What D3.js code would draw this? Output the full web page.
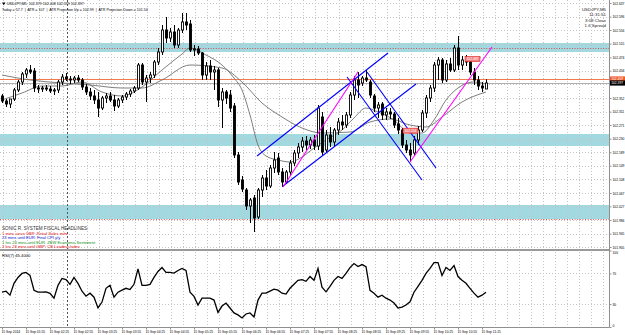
<!doctype html>
<html lang="en">
<head>
	<meta charset="UTF-8">
	<title>USDJPY,M5</title>
	<style>
		body { margin: 0; background: #fff; }
		svg { display: block; font-family: "Liberation Sans", Arial, sans-serif; }
		.axis text { font-size: 3.3px; fill: #000; }
		.axis path, .axis line { stroke: #909090; }
	</style>
</head>
<body>
	<script src="https://cdn.jsdelivr.net/npm/d3@7"></script>
	<script>
		// USDJPY M5 candles, oldest first
		var opens = [102.358,102.343,102.334,102.349,102.376,102.400,102.424,102.436,102.433,102.382,
			102.379,102.382,102.379,102.373,102.376,102.400,102.415,102.409,102.406,102.412,
			102.406,102.385,102.370,102.358,102.346,102.322,102.352,102.358,102.346,102.328,
			102.346,102.355,102.364,102.373,102.382,102.451,102.400,102.412,102.421,102.460,
			102.490,102.556,102.532,102.550,102.511,102.556,102.580,102.574,102.496,102.499,
			102.487,102.421,102.448,102.430,102.436,102.346,102.370,102.361,102.328,102.181,
			102.106,102.076,102.028,102.052,101.995,102.076,102.112,102.088,102.142,102.172,
			102.130,102.100,102.130,102.157,102.187,102.205,102.223,102.211,102.226,102.208,
			102.295,102.196,102.241,102.220,102.256,102.280,102.271,102.301,102.361,102.406,
			102.397,102.412,102.400,102.358,102.322,102.334,102.301,102.310,102.304,102.274,
			102.256,102.211,102.196,102.187,102.226,102.256,102.307,102.352,102.382,102.451,
			102.466,102.406,102.454,102.436,102.502,102.451,102.466,102.460,102.430,102.406,
			102.388,102.379];
		var highs = [102.364,102.349,102.343,102.382,102.406,102.430,102.442,102.451,102.442,102.391,
			102.388,102.391,102.388,102.382,102.406,102.424,102.427,102.418,102.418,102.421,
			102.412,102.394,102.382,102.376,102.370,102.358,102.367,102.370,102.361,102.352,
			102.361,102.370,102.379,102.388,102.457,102.457,102.421,102.430,102.466,102.502,
			102.571,102.595,102.562,102.571,102.562,102.607,102.607,102.586,102.511,102.508,
			102.490,102.460,102.466,102.448,102.442,102.382,102.376,102.376,102.337,102.190,
			102.118,102.082,102.052,102.061,102.082,102.121,102.136,102.151,102.190,102.187,
			102.142,102.136,102.166,102.196,102.217,102.235,102.238,102.235,102.241,102.331,
			102.310,102.256,102.265,102.262,102.292,102.301,102.310,102.370,102.418,102.430,
			102.418,102.436,102.406,102.364,102.340,102.340,102.322,102.322,102.310,102.292,
			102.262,102.226,102.217,102.238,102.268,102.316,102.361,102.391,102.460,102.475,
			102.472,102.466,102.472,102.511,102.538,102.478,102.481,102.472,102.442,102.418,
			102.400,102.408];
		var lows = [102.337,102.325,102.322,102.343,102.370,102.391,102.412,102.424,102.370,102.367,
			102.370,102.373,102.367,102.361,102.367,102.391,102.403,102.394,102.397,102.400,
			102.376,102.361,102.346,102.334,102.295,102.316,102.337,102.340,102.313,102.322,
			102.337,102.346,102.355,102.367,102.376,102.391,102.340,102.397,102.412,102.451,
			102.481,102.517,102.520,102.502,102.502,102.547,102.556,102.490,102.478,102.481,
			102.406,102.406,102.406,102.376,102.325,102.262,102.334,102.310,102.172,102.091,
			102.070,102.016,101.977,101.950,101.989,102.055,102.076,102.082,102.127,102.121,
			102.085,102.094,102.118,102.148,102.172,102.190,102.196,102.199,102.196,102.196,
			102.181,102.190,102.205,102.208,102.241,102.256,102.262,102.292,102.346,102.352,
			102.388,102.400,102.352,102.310,102.292,102.286,102.286,102.289,102.262,102.244,
			102.202,102.187,102.160,102.178,102.211,102.250,102.292,102.340,102.370,102.406,
			102.397,102.400,102.430,102.430,102.436,102.436,102.448,102.421,102.391,102.376,
			102.370,102.379];
		var closes = [102.343,102.334,102.349,102.376,102.400,102.424,102.436,102.430,102.382,102.379,
			102.382,102.379,102.373,102.376,102.400,102.415,102.409,102.406,102.412,102.406,
			102.385,102.370,102.358,102.346,102.322,102.352,102.358,102.346,102.328,102.346,
			102.355,102.364,102.373,102.382,102.451,102.400,102.412,102.421,102.460,102.490,
			102.556,102.532,102.550,102.511,102.556,102.580,102.571,102.496,102.499,102.487,
			102.421,102.448,102.430,102.436,102.346,102.370,102.352,102.322,102.181,102.100,
			102.079,102.028,102.046,101.992,102.076,102.112,102.088,102.142,102.166,102.130,
			102.100,102.130,102.157,102.187,102.205,102.223,102.211,102.226,102.208,102.322,
			102.190,102.241,102.220,102.256,102.280,102.271,102.301,102.361,102.406,102.391,
			102.412,102.406,102.361,102.322,102.331,102.301,102.310,102.304,102.271,102.256,
			102.211,102.196,102.181,102.226,102.256,102.307,102.352,102.382,102.451,102.466,
			102.406,102.454,102.436,102.502,102.451,102.466,102.460,102.430,102.406,102.388,
			102.382,102.397];

		// RSI(7), one value per bar
		var rsiValues = [45.5,46.8,41.6,57.1,64.8,70.0,71.3,67.4,48.0,45.5,
			45.5,46.0,44.0,37.7,54.5,63.5,62.0,55.8,64.8,57.0,
			46.8,40.3,44.2,39.0,25.0,32.6,50.6,54.5,39.0,45.5,
			48.1,50.6,49.0,55.8,76.0,54.5,54.5,55.8,64.8,72.6,
			77.7,71.3,71.3,70.5,73.9,76.5,74.0,45.5,40.0,28.7,
			37.7,37.7,37.7,35.2,19.0,27.4,31.3,24.8,18.4,15.8,
			11.9,17.0,18.4,13.2,35.2,44.2,44.2,46.8,49.4,48.1,
			44.2,43.0,50.6,55.8,61.0,62.0,59.7,66.0,61.0,76.5,
			52.0,46.0,53.0,61.0,66.0,63.5,70.0,77.7,82.9,79.0,
			81.6,79.0,48.0,44.2,39.0,41.6,37.7,35.2,31.3,24.8,
			26.0,28.7,33.0,45.5,53.2,61.0,70.0,76.5,84.2,84.2,
			67.4,77.7,73.9,80.3,66.0,61.0,57.1,50.6,44.2,39.0,
			41.6,45.4];

		// moving averages (bar index, price)
		var maFastBars = [0,5,10,15,20,25,30,35,40,45,47,51,55,58,60,62,64,66,69,72,75,78,81,85,88,91,94,98,102,105,108,111,114,118,121];
		var maFastPrices = [102.346,102.367,102.388,102.388,102.400,102.370,102.358,102.385,102.436,102.484,102.502,102.481,102.451,102.412,102.376,102.301,102.211,102.178,102.166,102.160,102.175,102.202,102.226,102.256,102.292,102.322,102.310,102.286,102.247,102.247,102.286,102.346,102.382,102.400,102.394];
		var maSlowBars = [0,7,15,22,30,35,40,47,55,60,65,70,75,80,87,92,97,102,106,110,115,121];
		var maSlowPrices = [102.421,102.406,102.397,102.391,102.382,102.382,102.406,102.451,102.442,102.400,102.337,102.295,102.262,102.247,102.250,102.280,102.289,102.271,102.265,102.295,102.340,102.370];

		// support / resistance zones
		var zoneTops = [102.517, 102.244, 102.031];
		var zoneBottoms = [102.490, 102.208, 101.989];
		var dottedLevels = [102.502, 101.989];
		var orangeLevel = 102.409;

		// trend lines: start bar, start price, end bar, end price
		var channelFrom = [[63.75, 102.178], [70.25, 102.088], [91.25, 102.430], [86.25, 102.415]];
		var channelTo = [[96.5, 102.487], [103.5, 102.394], [108.5, 102.142], [105, 102.106]];
		var pinkFrom = [[70.25, 102.085], [102, 102.160]];
		var pinkTo = [[89, 102.430], [122.5, 102.505]];

		// price tags on chart
		var tagBars = [100.5, 116];
		var tagPrices = [102.254, 102.469];

		var separatorBar = 16.25;

		var priceTicks = [102.637,102.596,102.556,102.515,102.474,102.434,102.352,102.311,102.271,102.230,102.189,102.149,102.108,102.067,102.027,101.986,101.945,101.905];
		var rsiTicks = [100, 70, 30, 0];
		var labelBars = d3.range(0, 121, 6);
		var timeLabels = ['15 Sep 2014','15 Sep 01:55','15 Sep 02:25','15 Sep 02:55','15 Sep 03:25','15 Sep 03:55',
			'15 Sep 04:25','15 Sep 04:55','15 Sep 05:25','15 Sep 05:55','15 Sep 06:25','15 Sep 06:55',
			'15 Sep 07:25','15 Sep 07:55','15 Sep 08:25','15 Sep 08:55','15 Sep 09:25','15 Sep 09:55',
			'15 Sep 10:25','15 Sep 10:55','15 Sep 11:25'];

		var headlines = ['SONIC R. SYSTEM FISCAL HEADLINES:',
			'1 mins since GBP: Retail Sales m/m',
			'23 mins until EUR: Final CPI y/y',
			'1 hrs 23 mins until EUR: ZEW Economic Sentiment',
			'2 hrs 23 mins until GBP: CB Leading Index'];
		var headlineColors = ['#333', '#e01010', '#1010d0', '#109010', '#e01010'];

		var W = 625, H = 335,
			plotRight = 609,
			mainBottom = 249,
			rsiTop = 251, rsiBottom = 327;

		var n = opens.length;

		var x = d3.scaleLinear().domain([0, 121]).range([2, 486]);
		var y = d3.scaleLinear().domain([101.899, 102.646]).range([mainBottom, 0]);
		var ry = d3.scaleLinear().domain([0, 100]).range([rsiBottom, rsiTop - 0.5]);

		var svg = d3.select('body').append('svg')
			.attr('width', W)
			.attr('height', H);

		svg.append('defs').append('clipPath').attr('id', 'clipMain')
			.append('rect').attr('x', 0).attr('y', 0).attr('width', plotRight).attr('height', mainBottom);

		// zones
		svg.selectAll('rect.zone')
			.data(zoneTops)
			.enter().append('rect')
			.attr('class', 'zone')
			.attr('x', 0)
			.attr('width', plotRight)
			.attr('y', function(d) { return y(d); })
			.attr('height', function(d, i) { return y(zoneBottoms[i]) - y(d); })
			.attr('fill', '#a2d8df');

		// grid
		var gridBars = d3.range(0, 152, 3);
		svg.selectAll('line.vgrid')
			.data(gridBars)
			.enter().append('line')
			.attr('x1', function(d) { return Math.round(x(d)) + 1.5; })
			.attr('x2', function(d) { return Math.round(x(d)) + 1.5; })
			.attr('y1', 0).attr('y2', rsiBottom)
			.attr('stroke', '#c4c4c4')
			.attr('stroke-dasharray', '1,2');

		svg.selectAll('line.hgrid')
			.data(priceTicks.concat([102.393]))
			.enter().append('line')
			.attr('x1', 0).attr('x2', plotRight)
			.attr('y1', function(d) { return Math.round(y(d)) + 0.5; })
			.attr('y2', function(d) { return Math.round(y(d)) + 0.5; })
			.attr('stroke', '#c4c4c4')
			.attr('stroke-dasharray', '1,2');

		svg.selectAll('line.rgrid')
			.data([70, 30])
			.enter().append('line')
			.attr('x1', 0).attr('x2', plotRight)
			.attr('y1', function(d) { return Math.round(ry(d)) + 0.5; })
			.attr('y2', function(d) { return Math.round(ry(d)) + 0.5; })
			.attr('stroke', '#c4c4c4')
			.attr('stroke-dasharray', '1,2');

		// day separator
		svg.append('line')
			.attr('x1', Math.round(x(separatorBar)) + 0.5)
			.attr('x2', Math.round(x(separatorBar)) + 0.5)
			.attr('y1', 0).attr('y2', rsiBottom)
			.attr('stroke', '#555')
			.attr('stroke-dasharray', '2,2');

		var main = svg.append('g').attr('clip-path', 'url(#clipMain)');

		// red dotted levels
		main.selectAll('line.dot')
			.data(dottedLevels)
			.enter().append('line')
			.attr('x1', 0).attr('x2', plotRight)
			.attr('y1', function(d) { return Math.round(y(d)) + 0.5; })
			.attr('y2', function(d) { return Math.round(y(d)) + 0.5; })
			.attr('stroke', '#e03030')
			.attr('stroke-width', 0.8)
			.attr('stroke-dasharray', '1,1.6');

		// orange level and bid line
		main.append('line')
			.attr('x1', 0).attr('x2', plotRight)
			.attr('y1', Math.round(y(orangeLevel)) + 0.5)
			.attr('y2', Math.round(y(orangeLevel)) + 0.5)
			.attr('stroke', '#f27a4a');
		main.append('line')
			.attr('x1', 0).attr('x2', plotRight)
			.attr('y1', Math.round(y(closes[n - 1])) + 0.5)
			.attr('y2', Math.round(y(closes[n - 1])) + 0.5)
			.attr('stroke', '#b0b0b0');

		// moving averages
		var maLine = d3.line()
			.x(function(d) { return x(d[0]); })
			.y(function(d) { return y(d[1]); })
			.curve(d3.curveMonotoneX);

		main.append('path')
			.attr('d', maLine(maSlowBars.map(function(b, i) { return [b, maSlowPrices[i]]; })))
			.attr('fill', 'none')
			.attr('stroke', '#707070')
			.attr('stroke-width', 0.9);
		main.append('path')
			.attr('d', maLine(maFastBars.map(function(b, i) { return [b, maFastPrices[i]]; })))
			.attr('fill', 'none')
			.attr('stroke', '#707070')
			.attr('stroke-width', 0.9);

		// candles
		var bars = d3.range(n).map(function(i) {
			return {i: i, o: opens[i], h: highs[i], l: lows[i], c: closes[i]};
		});

		main.selectAll('line.wick')
			.data(bars)
			.enter().append('line')
			.attr('x1', function(d) { return Math.round(x(d.i)) + 0.5; })
			.attr('x2', function(d) { return Math.round(x(d.i)) + 0.5; })
			.attr('y1', function(d) { return y(d.h); })
			.attr('y2', function(d) { return y(d.l); })
			.attr('stroke', '#000')
			.attr('stroke-width', 1);

		main.selectAll('rect.body')
			.data(bars)
			.enter().append('rect')
			.attr('x', function(d) { return Math.round(x(d.i)) - 0.5; })
			.attr('width', 2)
			.attr('y', function(d) { return y(Math.max(d.o, d.c)); })
			.attr('height', function(d) { return Math.max(0.6, Math.abs(y(d.o) - y(d.c))); })
			.attr('fill', function(d) { return d.c >= d.o ? '#fff' : '#000'; })
			.attr('stroke', '#000')
			.attr('stroke-width', 0.9);

		// trend lines
		main.selectAll('line.channel')
			.data(channelFrom)
			.enter().append('line')
			.attr('x1', function(d) { return x(d[0]); })
			.attr('y1', function(d) { return y(d[1]); })
			.attr('x2', function(d, i) { return x(channelTo[i][0]); })
			.attr('y2', function(d, i) { return y(channelTo[i][1]); })
			.attr('stroke', '#0000ff')
			.attr('stroke-width', 1.1);

		main.selectAll('line.pink')
			.data(pinkFrom)
			.enter().append('line')
			.attr('x1', function(d) { return x(d[0]); })
			.attr('y1', function(d) { return y(d[1]); })
			.attr('x2', function(d, i) { return x(pinkTo[i][0]); })
			.attr('y2', function(d, i) { return y(pinkTo[i][1]); })
			.attr('stroke', '#ff00ff')
			.attr('stroke-width', 1.1);

		// price tags
		var tags = main.selectAll('g.tag')
			.data(tagBars)
			.enter().append('g')
			.attr('transform', function(d, i) {
				return 'translate(' + x(d) + ',' + y(tagPrices[i]) + ')';
			});
		tags.append('rect')
			.attr('x', -1).attr('y', -2.5)
			.attr('width', 15).attr('height', 5)
			.attr('fill', '#f08080')
			.attr('stroke', '#e02020')
			.attr('stroke-width', 0.6);
		tags.append('text')
			.attr('x', 6.5).attr('y', 1.2)
			.attr('text-anchor', 'middle')
			.attr('font-size', '3.3px')
			.attr('fill', '#fff')
			.text(function(d, i) { return tagPrices[i].toFixed(3); });

		// RSI
		var rsiLine = d3.line()
			.x(function(d, i) { return x(i); })
			.y(function(d) { return ry(d); });
		svg.append('path')
			.attr('d', rsiLine(rsiValues))
			.attr('fill', 'none')
			.attr('stroke', '#000')
			.attr('stroke-width', 1.3);

		// frame
		svg.append('line')
			.attr('x1', 0).attr('x2', plotRight)
			.attr('y1', mainBottom + 1).attr('y2', mainBottom + 1)
			.attr('stroke', '#9a9a9a').attr('stroke-width', 2);

		// price axis
		var yAxis = svg.append('g')
			.attr('class', 'axis')
			.attr('transform', 'translate(' + (plotRight + 0.5) + ',0)')
			.call(d3.axisRight(y).tickValues(priceTicks).tickSize(2).tickPadding(1).tickFormat(d3.format('.3f')));
		yAxis.select('.domain').remove();

		svg.append('line')
			.attr('x1', plotRight + 0.5).attr('x2', plotRight + 0.5)
			.attr('y1', 0).attr('y2', rsiBottom)
			.attr('stroke', '#909090');

		// RSI axis
		var rAxis = svg.append('g')
			.attr('class', 'axis')
			.attr('transform', 'translate(' + (plotRight + 0.5) + ',0)')
			.call(d3.axisRight(ry).tickValues(rsiTicks).tickSize(2).tickPadding(1));
		rAxis.select('.domain').remove();
		rAxis.selectAll('.tick text')
			.attr('dy', function(d) { return d === 100 ? '0.9em' : (d === 0 ? '-0.3em' : '0.32em'); });

		// time axis
		var xAxis = svg.append('g')
			.attr('class', 'axis')
			.attr('transform', 'translate(0,' + (rsiBottom + 0.5) + ')')
			.call(d3.axisBottom(x).tickValues(labelBars).tickSize(2).tickPadding(1)
				.tickFormat(function(d, i) { return timeLabels[i]; }));
		xAxis.select('.domain').attr('d', 'M0,0H' + (plotRight + 0.5));
		xAxis.selectAll('.tick text').attr('text-anchor', 'start').attr('dx', '-1');

		// right axis price boxes
		var boxes = [[orangeLevel, '#f0582a'], [closes[n - 1], '#000']];
		boxes.forEach(function(b) {
			svg.append('rect')
				.attr('x', plotRight + 1).attr('y', y(b[0]) - 2.6)
				.attr('width', 15).attr('height', 5.2)
				.attr('fill', b[1]);
			svg.append('text')
				.attr('x', plotRight + 2.2).attr('y', y(b[0]) + 1.2)
				.attr('font-size', '3.3px')
				.attr('fill', '#fff')
				.text(b[0].toFixed(3));
		});

		// header
		svg.append('path')
			.attr('d', 'M2,2.5L5.5,2.5L3.75,5.2Z')
			.attr('fill', '#000');
		svg.append('text')
			.attr('x', 7).attr('y', 5.3)
			.attr('font-size', '3.6px')
			.attr('xml:space', 'preserve')
			.text('USDJPY,M5  ' + [opens[n - 1], highs[n - 1], lows[n - 1], closes[n - 1]].map(function(v) { return v.toFixed(3); }).join(' '));
		svg.append('text')
			.attr('x', 2).attr('y', 11)
			.attr('font-size', '3.6px')
			.attr('xml:space', 'preserve')
			.text('Today = 57.7  |  ATR = 107  |  ATR Projection Up = 102.99  |  ATR Projection Down = 101.54');

		var info = ['USDJPY,M5', '11:31:51', '3:09 Close', '1.6 Spread'];
		svg.selectAll('text.info')
			.data(info)
			.enter().append('text')
			.attr('x', 606)
			.attr('y', function(d, i) { return 11 + i * 5.3; })
			.attr('text-anchor', 'end')
			.attr('font-size', '4.4px')
			.attr('fill', '#222')
			.text(function(d) { return d; });

		// headlines
		svg.selectAll('text.news')
			.data(headlines)
			.enter().append('text')
			.attr('x', 2)
			.attr('y', function(d, i) { return 230 + i * 4.5; })
			.attr('font-size', function(d, i) { return i === 0 ? '4.6px' : '4.1px'; })
			.attr('fill', function(d, i) { return headlineColors[i]; })
			.text(function(d) { return d; });

		svg.append('text')
			.attr('x', 2).attr('y', 257)
			.attr('font-size', '4.2px')
			.text('RSI(7) ' + rsiValues[n - 1].toFixed(4));
	</script>
</body>
</html>
